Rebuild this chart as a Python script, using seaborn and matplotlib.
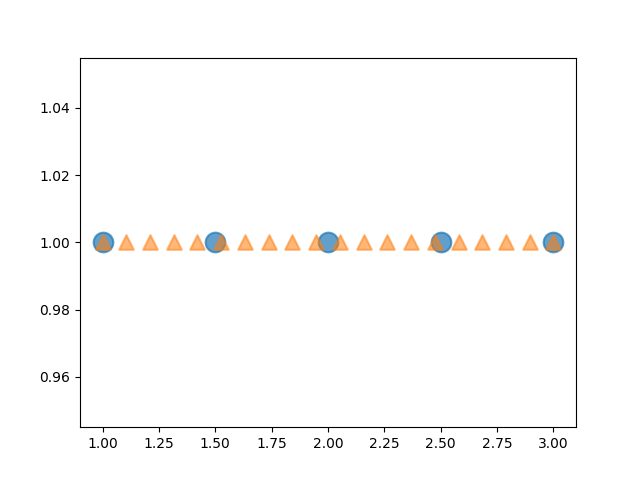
import matplotlib
matplotlib.use("Agg")
import matplotlib.pyplot as plt
import seaborn as sns

# circles
circle_x = [1.0, 1.5, 2.0, 2.5, 3.0]
circle_y = [1.0, 1.0, 1.0, 1.0, 1.0]

# triangles
tri_x = [1.0, 1.105, 1.211, 1.316, 1.421, 1.526, 1.632, 1.737, 1.842, 1.947,
         2.053, 2.158, 2.263, 2.368, 2.474, 2.579, 2.684, 2.789, 2.895, 3.0]
tri_y = [1.0] * len(tri_x)

fig, ax = plt.subplots(figsize=(6.4, 4.8), dpi=100)

sns.scatterplot(x=circle_x, y=circle_y, ax=ax, marker="o", s=200,
                color="C0", alpha=0.7, edgecolor="face", linewidth=1.5)
sns.scatterplot(x=tri_x, y=tri_y, ax=ax, marker="^", s=110,
                color="C1", alpha=0.55, edgecolor="face", linewidth=1.5)

plt.savefig("out.png", dpi=100)
